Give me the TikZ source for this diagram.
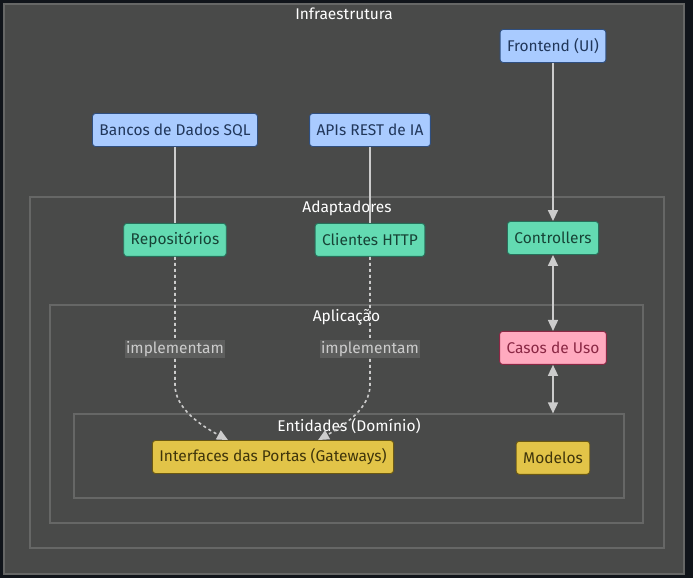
\documentclass[tikz,border=0pt]{standalone}
\usepackage{fontspec}
\setmainfont{Fira Sans}
\usepackage{xcolor}
\usepackage{tikz}
\usetikzlibrary{arrows.meta, positioning, calc}
\definecolor{page-bg}{HTML}{10141A}
\definecolor{layer-bg}{HTML}{494A49}
\definecolor{layer-line}{HTML}{666766}
\definecolor{edge-gray}{HTML}{CCCCCC}
\definecolor{infra-fill}{HTML}{A9CBFF}
\definecolor{infra-line}{HTML}{2F4F80}
\definecolor{adapt-fill}{HTML}{63DBB2}
\definecolor{adapt-line}{HTML}{26705A}
\definecolor{app-fill}{HTML}{FFAABF}
\definecolor{app-line}{HTML}{8A2744}
\definecolor{dom-fill}{HTML}{E2C448}
\definecolor{dom-line}{HTML}{6A5812}

\begin{document}
\begin{tikzpicture}[
    x=1pt, y=-1pt,
    font=\fontsize{15.5}{17}\selectfont,
    node distance=76pt,
    layer/.style={rectangle, draw=layer-line, line width=1.2pt, inner sep=0pt},
    title/.style={below=1pt, text=white},
    box/.style={rectangle, rounded corners=3pt, line width=0.9pt, minimum height=33pt, inner xsep=7pt},
    infra/.style={box, draw=infra-line, fill=infra-fill, text=infra-line!70!black},
    adapt/.style={box, draw=adapt-line, fill=adapt-fill, text=adapt-line!60!black},
    app/.style={box, draw=app-line, fill=app-fill, text=app-line},
    dom/.style={box, draw=dom-line, fill=dom-fill, text=dom-line!60!black},
    link/.style={edge-gray, line width=1.6pt},
    arrow/.style={link, -{Triangle[width=10pt, length=11pt]}},
    twoway/.style={link, {Triangle[width=10pt, length=11pt]}-{Triangle[width=10pt, length=11pt]}},
    dotlink/.style={arrow, dash pattern=on 3pt off 3pt},
    lbl/.style={fill=layer-line!70!layer-bg, text=edge-gray, inner sep=1pt, solid}
]
    \fill[page-bg] (0,0) rectangle (693,578);
    \node[layer, fill=layer-bg, minimum width=680pt, minimum height=570pt] (lyr-infra) at (344,289) {};
    \node[layer, minimum width=634pt, minimum height=351pt] (lyr-adapt) at (347,372.5) {};
    \node[layer, minimum width=593pt, minimum height=218pt] (lyr-app) at (346.5,414) {};
    \node[layer, minimum width=550pt, minimum height=84pt] (lyr-dom) at (349,456) {};

    \node[title] at (lyr-infra.north) {Infraestrutura};
    \node[title] at (lyr-adapt.north) {Adaptadores};
    \node[title] at (lyr-app.north) {Aplicação};
    \node[title] at (lyr-dom.north) {Entidades (Domínio)};

    \node[infra] (front) at (553,46) {Frontend (UI)};
    \node[infra] (sql) at (175,130) {Bancos de Dados SQL};
    \node[infra] (apis) at (370,130) {APIs REST de IA};
    \node[adapt, below=of sql] (repos) {Repositórios};
    \node[adapt, below=of apis] (http) {Clientes HTTP};
    \node[adapt] (ctrl) at (553,238) {Controllers};
    \node[app, below=of ctrl] (casos) {Casos de Uso};
    \node[dom, below=of casos] (modelos) {Modelos};
    \node[dom] (gateways) at (273,457) {Interfaces das Portas (Gateways)};

    \draw[link] (sql) -- (repos);
    \draw[link] (apis) -- (http);
    \draw[arrow] (front) -- (ctrl);
    \draw[twoway] (ctrl) -- (casos);
    \draw[twoway] (casos) -- (casos |- lyr-dom.north);
    \draw[dotlink] (repos.south) -- node[lbl, pos=0.72] {implementam} (175,385)
        .. controls (175,408) and (200,425) .. ([xshift=-45pt]gateways.north);
    \draw[dotlink] (http.south) -- node[lbl, pos=0.72] {implementam} (370,385)
        .. controls (370,408) and (345,425) .. ([xshift=45pt]gateways.north);
\end{tikzpicture}
\end{document}
